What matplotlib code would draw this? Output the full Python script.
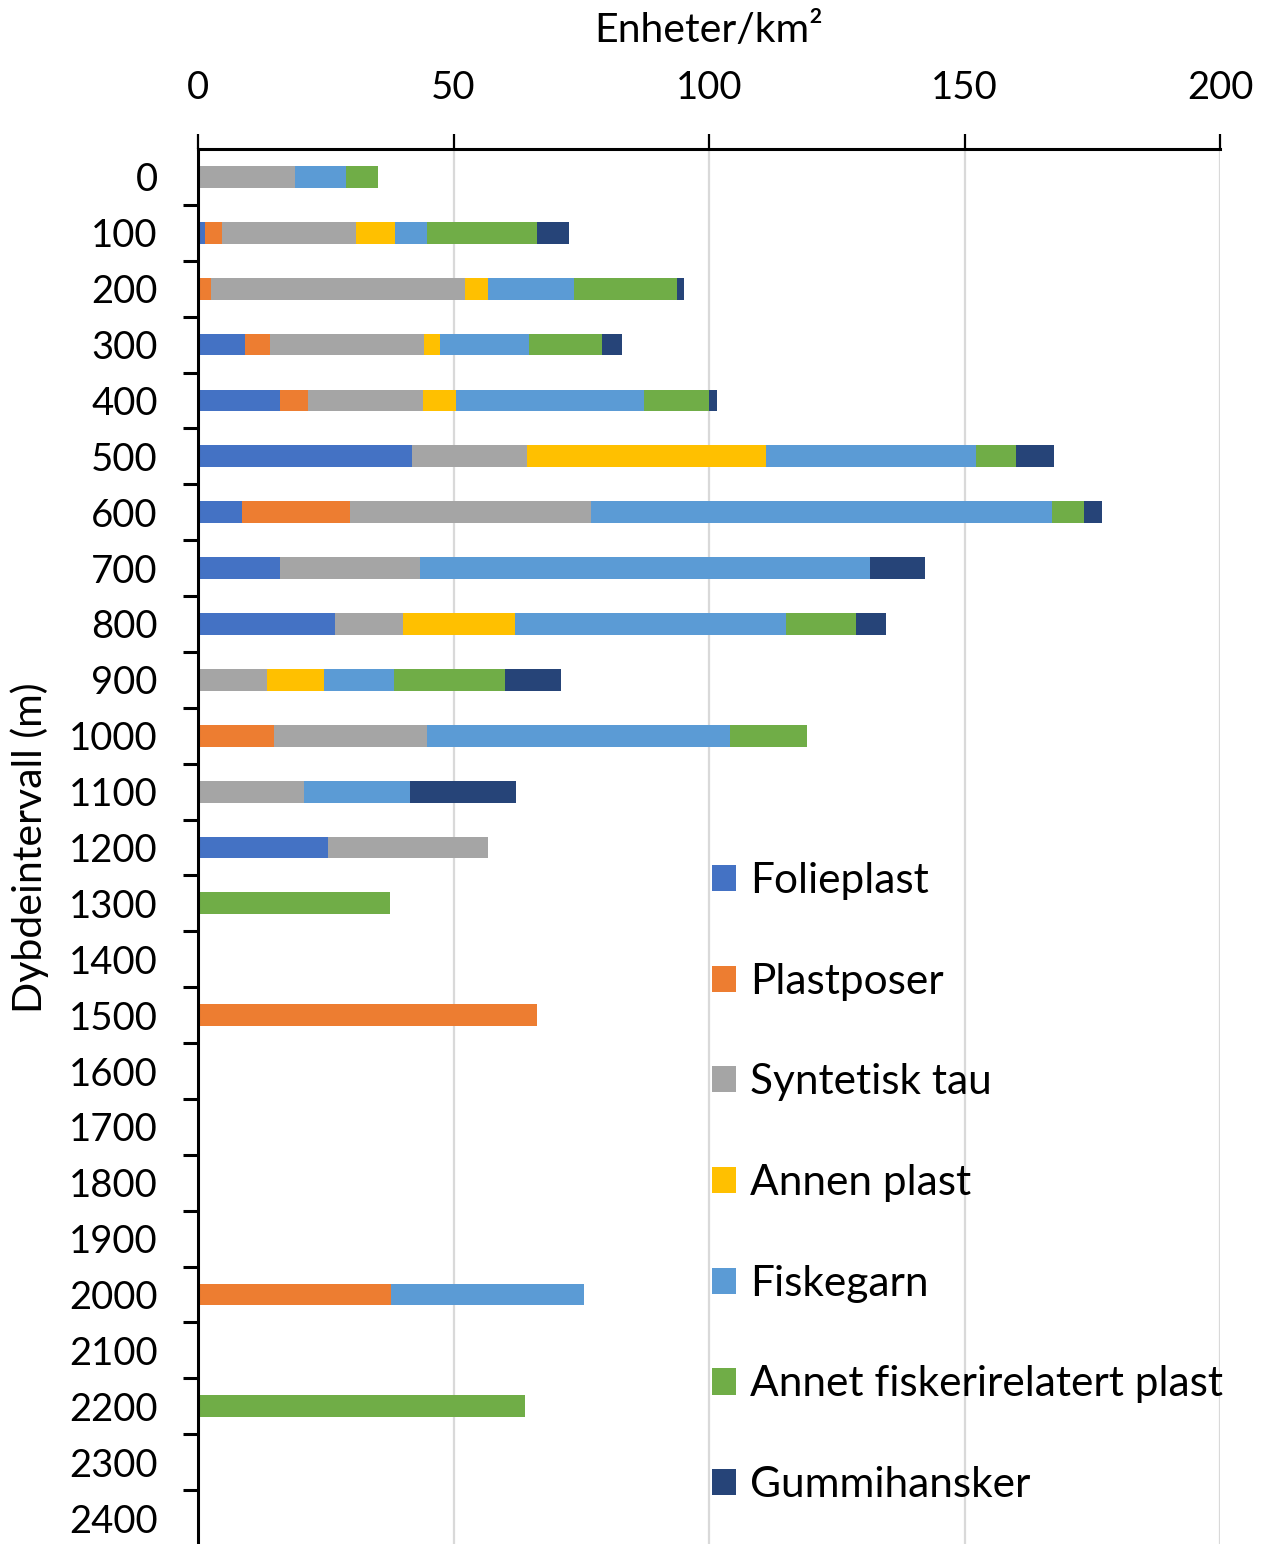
import numpy as np
import matplotlib.pyplot as plt

plt.rcParams['font.family'] = ['Lato', 'DejaVu Sans']

# Depth intervals (m)
depths = [str(d) for d in range(0, 2500, 100)]

# Units per km2 for each category, one value per depth interval
folieplast = [0, 1.4, 0.3, 9.1, 16.0, 41.9, 8.7, 16.0, 26.8, 0, 0, 0, 25.5,
              0, 0, 0, 0, 0, 0, 0, 0, 0, 0, 0, 0]
plastposer = [0, 3.3, 2.3, 5.0, 5.6, 0, 21.0, 0, 0, 0, 14.9, 0, 0,
              0, 0, 66.4, 0, 0, 0, 0, 37.8, 0, 0, 0, 0]
syntetisk_tau = [19.0, 26.2, 49.6, 30.2, 22.4, 22.4, 47.3, 27.5, 13.4, 13.6, 30.0, 20.8, 31.2,
                 0, 0, 0, 0, 0, 0, 0, 0, 0, 0, 0, 0]
annen_plast = [0, 7.6, 4.5, 3.1, 6.4, 46.9, 0, 0, 21.8, 11.0, 0, 0, 0,
               0, 0, 0, 0, 0, 0, 0, 0, 0, 0, 0, 0]
fiskegarn = [9.9, 6.4, 16.8, 17.3, 36.8, 41.1, 90.2, 88.1, 53.1, 13.8, 59.2, 20.7, 0,
             0, 0, 0, 0, 0, 0, 0, 37.7, 0, 0, 0, 0]
annet_fiskeri = [6.3, 21.5, 20.3, 14.4, 12.8, 7.8, 6.1, 0, 13.7, 21.6, 15.0, 0, 0,
                 37.6, 0, 0, 0, 0, 0, 0, 0, 0, 63.9, 0, 0]
gummihansker = [0, 6.3, 1.4, 3.8, 1.6, 7.4, 3.7, 10.7, 5.8, 11.0, 0, 20.7, 0,
                0, 0, 0, 0, 0, 0, 0, 0, 0, 0, 0, 0]

series = [folieplast, plastposer, syntetisk_tau, annen_plast, fiskegarn, annet_fiskeri, gummihansker]
labels = ['Folieplast', 'Plastposer', 'Syntetisk tau', 'Annen plast', 'Fiskegarn',
          'Annet fiskerirelatert plast', 'Gummihansker']
colors = ['#4472C4', '#ED7D31', '#A5A5A5', '#FFC000', '#5B9BD5', '#70AD47', '#264478']

W, H = 1263, 1544
fig = plt.figure(figsize=(W / 100, H / 100), dpi=100)
ax = fig.add_axes([198 / W, 1 - 1546 / H, (1220 - 198) / W, (1546 - 149) / H])

# Stacked horizontal bars
y = np.arange(len(depths))
left = np.zeros(len(depths))
for vals, label, color in zip(series, labels, colors):
    vals = np.array(vals, dtype=float)
    ax.barh(y, vals, left=left, height=0.39, color=color, label=label, zorder=3)
    left += vals

# Axes styling
ax.set_xlim(0, 200)
ax.set_ylim(len(depths) - 0.5, -0.5)
ax.xaxis.tick_top()
ax.set_xticks([0, 50, 100, 150, 200])
ax.tick_params(axis='x', which='major', direction='out', length=11, width=1.6,
               pad=20, labelsize=27.5)
ax.set_yticks(y)
ax.set_yticklabels(depths)
ax.set_yticks(np.arange(len(depths)) + 0.5, minor=True)
ax.tick_params(axis='y', which='major', length=0, pad=29, labelsize=27.5)
ax.tick_params(axis='y', which='minor', direction='out', length=11, width=2.2)
ax.grid(axis='x', color='#D9D9D9', linewidth=1.6, zorder=0)
for side in ['right', 'bottom']:
    ax.spines[side].set_visible(False)
for side in ['top', 'left']:
    ax.spines[side].set_linewidth(2.2)
    ax.spines[side].set_zorder(4)

# Axis titles
fig.text(709 / W, 1 - 30 / H, 'Enheter/km²', ha='center', va='center', fontsize=29.5)
fig.text(30 / W, 1 - 848 / H, 'Dybdeintervall (m)', ha='center', va='center',
         rotation=90, fontsize=29.5)

# Legend
ax.legend(loc='upper left', bbox_to_anchor=(712 / W, 1 - 862 / H), bbox_transform=fig.transFigure,
          frameon=False, fontsize=30.5, borderpad=0, borderaxespad=0,
          handlelength=0.57, handleheight=0.57, handletextpad=0.33, labelspacing=1.48)

fig.savefig('out.png', dpi=100)
